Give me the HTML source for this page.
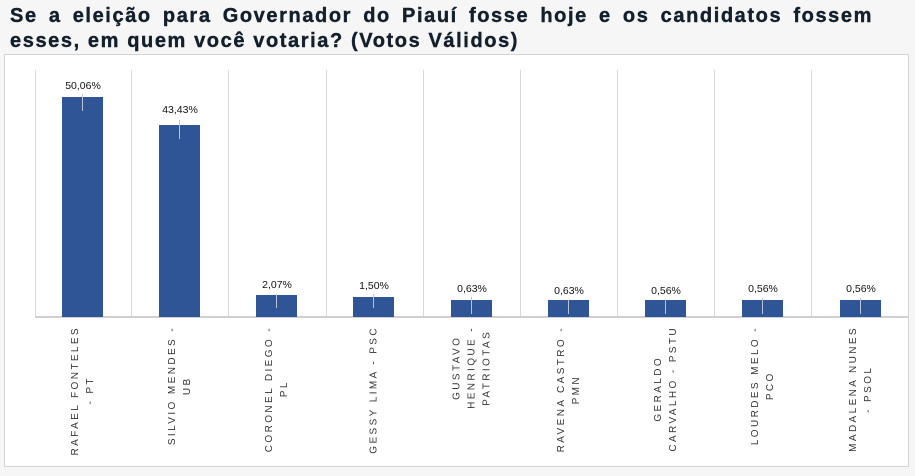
<!DOCTYPE html>
<html><head><meta charset="utf-8"><style>
body{margin:0;width:915px;height:476px;background:#f6f6f6;position:relative;overflow:hidden;font-family:"Liberation Sans",sans-serif}
.t{position:absolute;left:10px;width:863px;font-weight:bold;font-size:20px;line-height:25px;color:#13202c;letter-spacing:1.6px;white-space:nowrap;-webkit-text-stroke:0.4px #13202c}
.t1{top:4px;text-align:justify;text-align-last:justify}
.t2{top:29px}
.box{position:absolute;left:4px;top:54px;width:903px;height:411px;background:#fff;border:1.5px solid #d4d4d4}
.g{position:absolute;top:70px;height:247px;width:1px;background:#d9d9d9}
.base{position:absolute;left:35px;top:316px;width:873px;height:1.5px;background:#d0d0d0}
.bar{position:absolute;width:41px;background:#2f5597;bottom:159px}
.dl{position:absolute;font-size:10.5px;color:#111;width:60px;text-align:center}
.ll{position:absolute;width:1px;background:#b9c3d6}
.lab{position:absolute;top:326px;writing-mode:vertical-rl;transform:translateX(-50%) rotate(180deg);text-align:center;font-size:10px;letter-spacing:2.4px;line-height:15px;color:#333;white-space:nowrap}
</style></head><body>
<div class="t t1">Se a eleição para Governador do Piauí fosse hoje e os candidatos fossem</div>
<div class="t t2">esses, em quem você votaria? (Votos Válidos)</div>
<div class="box"></div>
<div class="g" style="left:35px"></div><div class="g" style="left:131px"></div><div class="g" style="left:228px"></div><div class="g" style="left:326px"></div><div class="g" style="left:423px"></div><div class="g" style="left:520px"></div><div class="g" style="left:617px"></div><div class="g" style="left:714px"></div><div class="g" style="left:811px"></div>
<div class="base"></div>

<div class="bar" style="left:62px;top:97px"></div>
<div class="bar" style="left:159px;top:125px"></div>
<div class="bar" style="left:256px;top:295px"></div>
<div class="bar" style="left:353px;top:297px"></div>
<div class="bar" style="left:451px;top:300px"></div>
<div class="bar" style="left:548px;top:300px"></div>
<div class="bar" style="left:645px;top:300px"></div>
<div class="bar" style="left:742px;top:300px"></div>
<div class="bar" style="left:840px;top:300px"></div>

<div class="dl" style="left:53px;top:80px">50,06%</div>
<div class="dl" style="left:150px;top:104px">43,43%</div>
<div class="dl" style="left:247px;top:279px">2,07%</div>
<div class="dl" style="left:344px;top:280px">1,50%</div>
<div class="dl" style="left:442px;top:283px">0,63%</div>
<div class="dl" style="left:539px;top:285px">0,63%</div>
<div class="dl" style="left:636px;top:285px">0,56%</div>
<div class="dl" style="left:733px;top:283px">0,56%</div>
<div class="dl" style="left:831px;top:283px">0,56%</div>

<div class="ll" style="left:82px;top:94px;height:17px"></div>
<div class="ll" style="left:179px;top:120px;height:19px"></div>
<div class="ll" style="left:276px;top:294px;height:14px"></div>
<div class="ll" style="left:373px;top:294px;height:14px"></div>
<div class="ll" style="left:471px;top:297px;height:17px"></div>
<div class="ll" style="left:568px;top:300px;height:14px"></div>
<div class="ll" style="left:665px;top:299px;height:15px"></div>
<div class="ll" style="left:762px;top:298px;height:16px"></div>
<div class="ll" style="left:860px;top:298px;height:16px"></div>

<div class="lab" style="left:83px">RAFAEL FONTELES<br>- PT</div>
<div class="lab" style="left:180px">SILVIO MENDES -<br>UB</div>
<div class="lab" style="left:277px">CORONEL DIEGO -<br>PL</div>
<div class="lab" style="left:374px">GESSY LIMA - PSC</div>
<div class="lab" style="left:472px">GUSTAVO<br>HENRIQUE -<br>PATRIOTAS</div>
<div class="lab" style="left:569px">RAVENA CASTRO -<br>PMN</div>
<div class="lab" style="left:666px">GERALDO<br>CARVALHO - PSTU</div>
<div class="lab" style="left:763px">LOURDES MELO -<br>PCO</div>
<div class="lab" style="left:861px">MADALENA NUNES<br>- PSOL</div>
</body></html>
